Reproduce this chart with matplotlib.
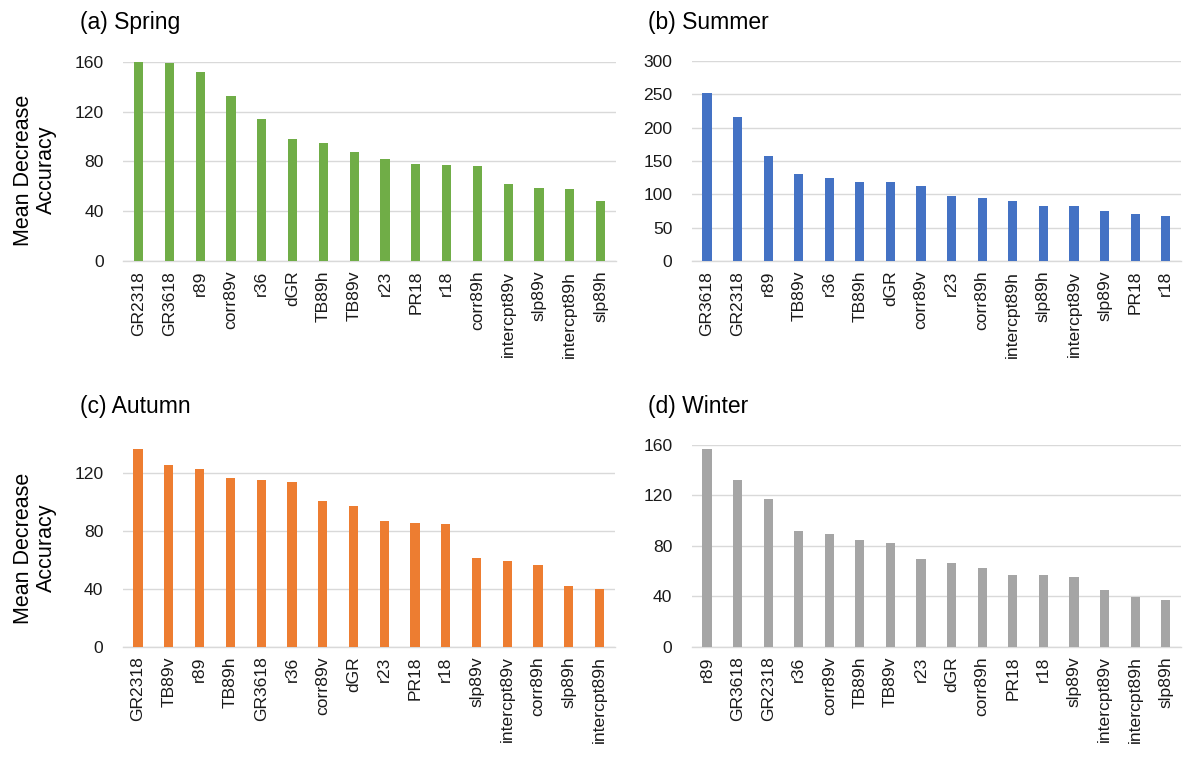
import matplotlib
matplotlib.use("Agg")
import matplotlib.pyplot as plt

plt.rcParams['font.family'] = ['Liberation Sans', 'DejaVu Sans']

# Variable importance (Mean Decrease Accuracy) per season
spring_labels = ["GR2318", "GR3618", "r89", "corr89v", "r36", "dGR", "TB89h", "TB89v",
                 "r23", "PR18", "r18", "corr89h", "intercpt89v", "slp89v", "intercpt89h", "slp89h"]
spring_values = [160, 159, 151.5, 132.5, 114, 98, 94.5, 87.5, 81.5, 77.5, 77, 76.5,
                 61.5, 58.5, 57.5, 48.5]

summer_labels = ["GR3618", "GR2318", "r89", "TB89v", "r36", "TB89h", "dGR", "corr89v",
                 "r23", "corr89h", "intercpt89h", "slp89h", "intercpt89v", "slp89v", "PR18", "r18"]
summer_values = [252, 216, 157, 131, 125, 119, 119, 112, 98, 94, 90, 83, 82, 75, 71, 67]

autumn_labels = ["GR2318", "TB89v", "r89", "TB89h", "GR3618", "r36", "corr89v", "dGR",
                 "r23", "PR18", "r18", "slp89v", "intercpt89v", "corr89h", "slp89h", "intercpt89h"]
autumn_values = [136.7, 125.5, 123, 117, 115.5, 113.7, 101, 97.7, 86.8, 85.9, 84.7,
                 61.7, 59.6, 56.8, 41.8, 39.6]

winter_labels = ["r89", "GR3618", "GR2318", "r36", "corr89v", "TB89h", "TB89v", "r23",
                 "dGR", "corr89h", "PR18", "r18", "slp89v", "intercpt89v", "intercpt89h", "slp89h"]
winter_values = [157, 132, 117, 91.5, 89.6, 84.3, 82.1, 69.9, 66.5, 62.5, 56.6, 56.6,
                 55.5, 45.2, 39.1, 37.2]

titles = ["(a) Spring", "(b) Summer", "(c) Autumn", "(d) Winter"]
y_ticks = [[0, 40, 80, 120, 160], [0, 50, 100, 150, 200, 250, 300],
           [0, 40, 80, 120], [0, 40, 80, 120, 160]]
y_limits = [160, 300, 140, 160]

W, H = 1186, 764
fig = plt.figure(figsize=(W / 100, H / 100), dpi=100)
fig.patch.set_facecolor("white")

# panel boxes in pixels: left, top, right, bottom
boxes = [(123.3, 61.7, 616, 261), (691.7, 61, 1181, 261),
         (122.7, 444.4, 615, 646.7), (691.7, 445, 1181, 646.7)]
title_pos = [(80, 23), (648, 23), (80, 406), (648, 406)]
ylabel_y = {0: 170, 2: 548}
colors = ["#70AD47", "#4472C4", "#ED7D31", "#A5A5A5"]
data = [(spring_labels, spring_values), (summer_labels, summer_values),
        (autumn_labels, autumn_values), (winter_labels, winter_values)]

for i, ((labels, values), (l, t, r, b)) in enumerate(zip(data, boxes)):
    ax = fig.add_axes([l / W, 1 - b / H, (r - l) / W, (b - t) / H])
    x = list(range(len(labels)))
    ax.bar(x, values, width=0.3, color=colors[i], zorder=3)
    ax.set_xlim(-0.5, len(labels) - 0.5)
    ax.set_ylim(0, y_limits[i])
    ax.set_yticks(y_ticks[i])
    ax.set_xticks(x)
    ax.set_xticklabels(labels, rotation=90, fontsize=12.6, color="#1a1a1a")
    ax.tick_params(axis="y", labelsize=12.6, labelcolor="#1a1a1a", length=0, pad=14)
    ax.tick_params(axis="x", length=0, pad=7)
    ax.grid(axis="y", color="#D9D9D9", linewidth=1.0, zorder=0)
    for s in ["top", "right", "left"]:
        ax.spines[s].set_visible(False)
    ax.spines["bottom"].set_color("#D9D9D9")
    ax.spines["bottom"].set_linewidth(1.0)
    tx, ty = title_pos[i]
    fig.text(tx / W, 1 - ty / H, titles[i], fontsize=16.5, color="black",
             ha="left", va="center")
    if i in ylabel_y:
        fig.text(35 / W, 1 - ylabel_y[i] / H, "Mean Decrease\nAccuracy",
                 rotation=90, fontsize=15.5, ha="center", va="center",
                 multialignment="center", color="black", linespacing=1.15)

fig.savefig("out.png", dpi=100, facecolor="white")
